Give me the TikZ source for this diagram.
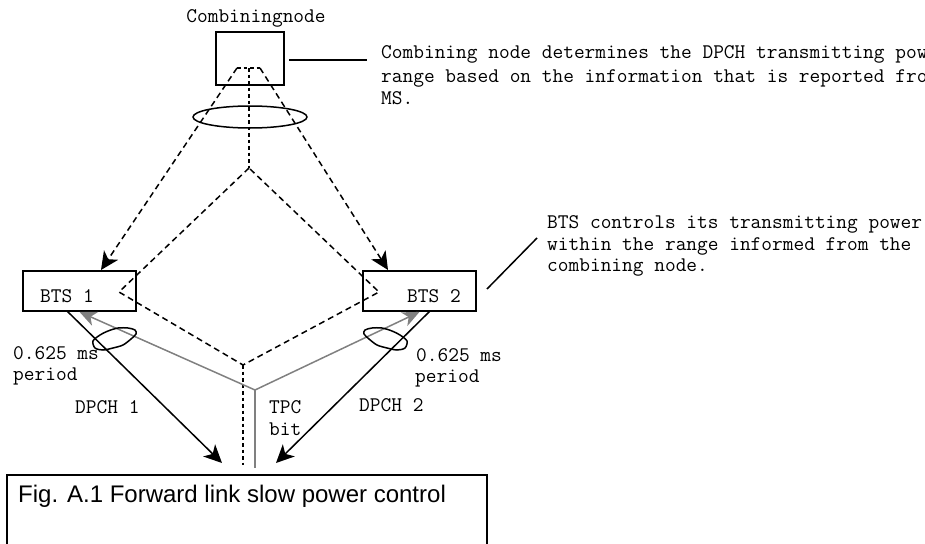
\documentclass[tikz,border=0pt]{standalone}
\usepackage{fontspec}
\setmainfont{Liberation Sans}
\usetikzlibrary{arrows.meta}
\definecolor{tpcgrey}{RGB}{128,128,128}
\begin{document}
\begin{tikzpicture}[x=1pt,y=-1pt,
  box/.style={draw,line width=1.8pt,inner sep=0pt},
  mono/.style={font=\ttfamily\fontsize{20.8}{24}\selectfont,inner sep=0pt},
  dsh/.style={line width=1.5pt,dash pattern=on 6pt off 4pt},
  dotl/.style={line width=1.5pt,dash pattern=on 3.5pt off 3pt},
  tipd/.style={-{Stealth[length=18pt,width=17pt,inset=5pt]}},
  thin/.style={line width=1.5pt},
  tpc/.style={line width=1.5pt,draw=tpcgrey},
  tipg/.style={-{Stealth[length=17pt,width=15pt,inset=5pt,fill=tpcgrey]}}]
\useasboundingbox (0,0) rectangle (925,543);
\clip (0,0) rectangle (925,543);

% boxes
\node[box,minimum width=68pt,minimum height=53pt] (comb) at (250,58.5) {};
\node[box,minimum width=113pt,minimum height=40pt] (bts1) at (79.5,291) {};
\node[box,minimum width=113pt,minimum height=40pt] (bts2) at (419.5,291) {};
\node[draw,line width=1.5pt,minimum width=480pt,minimum height=110pt,inner sep=0pt] (capbox) at (247,530) {};

% labels
\node[mono,anchor=base] (comblbl) at (256,23) {Combiningnode};
\node[mono,anchor=base] (bts1lbl) at (67,302) {BTS 1};
\node[mono,anchor=base] (bts2lbl) at (434,302) {BTS 2};
\node[mono,anchor=base west] (per1a) at (13,359) {0.625 ms};
\node[mono,anchor=base west] (per1b) at (13,380) {period};
\node[mono,anchor=base west] (per2a) at (416,361) {0.625 ms};
\node[mono,anchor=base west] (per2b) at (415,382) {period};
\node[mono,anchor=base west] (dpch1) at (75,413) {DPCH 1};
\node[mono,anchor=base west] (dpch2) at (359,411) {DPCH 2};
\node[mono,anchor=base west] (tpca) at (269,413) {TPC};
\node[mono,anchor=base west] (tpcb) at (269,435) {bit};

\node[mono,anchor=base west] (ann1a) at (381,59) {Combining node determines the DPCH transmitting power};
\node[mono,anchor=base west] (ann1b) at (381,82) {range based on the information that is reported from the};
\node[mono,anchor=base west] (ann1c) at (381,104) {MS.};
\node[mono,anchor=base west] (ann2a) at (547,228) {BTS controls its transmitting power};
\node[mono,anchor=base west] (ann2b) at (547,250) {within the range informed from the};
\node[mono,anchor=base west] (ann2c) at (547,271) {combining node.};

\node[font=\fontsize{24}{28}\selectfont,anchor=base west,inner sep=0pt] (cap) at (18,502) {Fig. A.1 Forward link slow power control};

% leader lines
\coordinate (l1a) at (289,60);
\coordinate (l1b) at (367,60);
\draw[thin] (l1a) -- (l1b);
\coordinate (l2a) at (487,289);
\coordinate (l2b) at (537,238);
\draw[thin] (l2a) -- (l2b);

% dashed combining structure
\coordinate (tl) at (237,68);
\coordinate (tr) at (260,68);
\coordinate (tm) at (249,68);
\coordinate (mid) at (249,168);
\coordinate (il) at (119,292);
\coordinate (ir) at (379,292);
\coordinate (bot) at (243,365);
\coordinate (botend) at (243,465);
\coordinate (d1) at (101,270);
\coordinate (d2) at (388,270);
\draw[dotl] (tl) -- (tr);
\draw[dotl] (tm) -- (mid);
\draw[dsh,tipd] (tl) -- (d1);
\draw[dsh,tipd] (tr) -- (d2);
\draw[dsh] (mid) -- (il) -- (bot) -- (ir) -- cycle;
\draw[dotl] (bot) -- (botend);
\draw[thin] (250,117) ellipse [x radius=57pt, y radius=11pt];

% TPC bit (grey)
\coordinate (g) at (255,390);
\coordinate (gend) at (255,468);
\draw[tpc,tipg] (g) -- (bts1.south);
\draw[tpc,tipg] (g) -- (bts2.south);
\draw[tpc] (g) -- (gend);

% DPCH arrows
\coordinate (s1) at (67,311);
\coordinate (e1) at (222,463);
\coordinate (s2) at (430,311);
\coordinate (e2) at (276,463);
\draw[thin,tipd] (s1) -- (e1);
\draw[thin,tipd] (s2) -- (e2);

% 0.625 ms loops
\draw[thin] plot[smooth cycle] coordinates {(93,341) (100,335) (108,331) (118,328) (128,328) (135,330) (136,334) (131,339) (123,345) (113,348) (103,350) (95,348)};
\draw[thin] plot[smooth cycle] coordinates {(407,341) (400,335) (392,331) (382,328) (372,328) (365,330) (364,334) (369,339) (377,345) (387,348) (397,350) (405,348)};
\end{tikzpicture}
\end{document}
